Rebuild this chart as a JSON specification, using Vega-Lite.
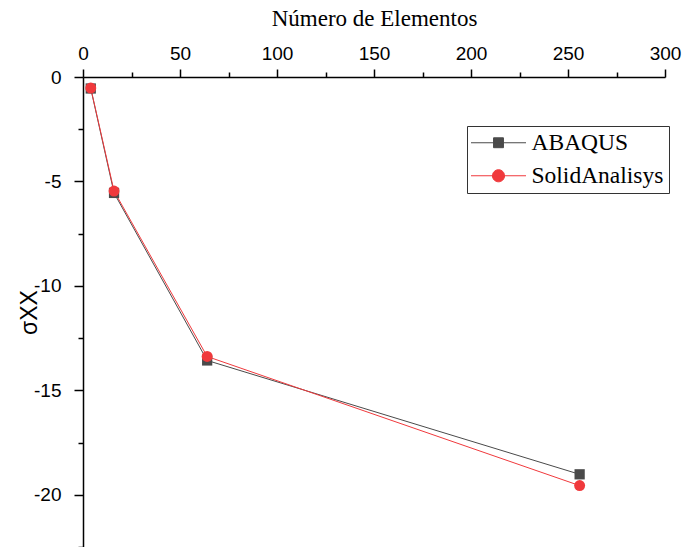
{
  "$schema": "https://vega.github.io/schema/vega-lite/v6.json",
  "width": 582,
  "height": 470,
  "autosize": {"type": "none"},
  "padding": {"left": 83, "top": 77, "right": 19, "bottom": 0},
  "config": {
    "view": {"stroke": null},
    "axis": {
      "domainColor": "#000000",
      "tickColor": "#000000",
      "labelColor": "#000000",
      "titleColor": "#000000",
      "grid": false,
      "domainWidth": 1.5,
      "tickWidth": 1.5,
      "labelFont": "Liberation Sans",
      "labelFontSize": 19
    }
  },
  "data": {
    "values": [
      {"n": 4, "sxx": -0.55, "series": "ABAQUS"},
      {"n": 16, "sxx": -5.55, "series": "ABAQUS"},
      {"n": 64, "sxx": -13.57, "series": "ABAQUS"},
      {"n": 256, "sxx": -19.02, "series": "ABAQUS"},
      {"n": 4, "sxx": -0.53, "series": "SolidAnalisys"},
      {"n": 16, "sxx": -5.46, "series": "SolidAnalisys"},
      {"n": 64, "sxx": -13.38, "series": "SolidAnalisys"},
      {"n": 256, "sxx": -19.56, "series": "SolidAnalisys"}
    ]
  },
  "encoding": {
    "x": {
      "field": "n",
      "type": "quantitative",
      "scale": {"domain": [0, 300], "nice": false, "zero": false},
      "axis": {
        "orient": "top",
        "title": "Número de Elementos",
        "titleFont": "Liberation Serif",
        "titleFontSize": 23,
        "titleFontWeight": "normal",
        "titlePadding": 14,
        "values": [0, 25, 50, 75, 100, 125, 150, 175, 200, 225, 250, 275, 300],
        "labelExpr": "datum.value % 50 === 0 ? toString(datum.value) : ''",
        "tickSize": {"condition": {"test": "datum.value % 50 === 0", "value": 8}, "value": 5},
        "labelPadding": 6,
        "labelFlush": false,
        "labelOverlap": false
      }
    },
    "y": {
      "field": "sxx",
      "type": "quantitative",
      "scale": {"domain": [-22.5, 0], "nice": false, "zero": false},
      "axis": {
        "title": "σXX",
        "titleFont": "Liberation Sans",
        "titleFontSize": 23,
        "titleFontWeight": "normal",
        "titleX": -47,
        "titleY": 235,
        "titleAngle": -90,
        "titleAlign": "center",
        "titleBaseline": "alphabetic",
        "values": [0, -2.5, -5, -7.5, -10, -12.5, -15, -17.5, -20, -22.5],
        "labelExpr": "datum.value % 5 === 0 ? toString(datum.value) : ''",
        "tickSize": {"condition": {"test": "datum.value % 5 === 0", "value": 9}, "value": 5},
        "labelPadding": 13,
        "labelFlush": false,
        "labelOverlap": false
      }
    },
    "color": {
      "field": "series",
      "type": "nominal",
      "scale": {"domain": ["ABAQUS", "SolidAnalisys"], "range": ["#4a4a4a", "#f0393c"]},
      "legend": {
        "title": null,
        "orient": "none",
        "legendX": 384,
        "legendY": 49,
        "strokeColor": "#333333",
        "fillColor": "#ffffff",
        "padding": 5,
        "labelFont": "Liberation Serif",
        "labelFontSize": 23.5,
        "labelColor": "#000000",
        "labelOffset": 36,
        "symbolSize": 121,
        "rowPadding": 8,
        "encode": {
          "symbols": {
            "update": {
              "shape": {"signal": "datum.value === 'ABAQUS' ? 'M-5,0H5M-0.9,-0.9H0.9V0.9H-0.9Z' : 'M-5,0H5M1.1,0A1.1,1.1 0 1 1 -1.1,0A1.1,1.1 0 1 1 1.1,0Z'"},
              "size": {"value": 121},
              "x": {"value": 26.5},
              "fill": {"signal": "datum.value === 'ABAQUS' ? '#4a4a4a' : '#f0393c'"},
              "stroke": {"signal": "datum.value === 'ABAQUS' ? '#4a4a4a' : '#f0393c'"},
              "strokeWidth": {"value": 1},
              "opacity": {"value": 1}
            }
          }
        }
      }
    }
  },
  "layer": [
    {
      "mark": {"type": "line", "strokeWidth": 1}
    },
    {
      "transform": [{"filter": "datum.series === 'ABAQUS'"}],
      "mark": {"type": "point", "shape": "square", "filled": true, "opacity": 1, "size": 105}
    },
    {
      "transform": [{"filter": "datum.series === 'SolidAnalisys'"}],
      "mark": {"type": "point", "shape": "circle", "filled": true, "opacity": 1, "size": 120}
    }
  ]
}
